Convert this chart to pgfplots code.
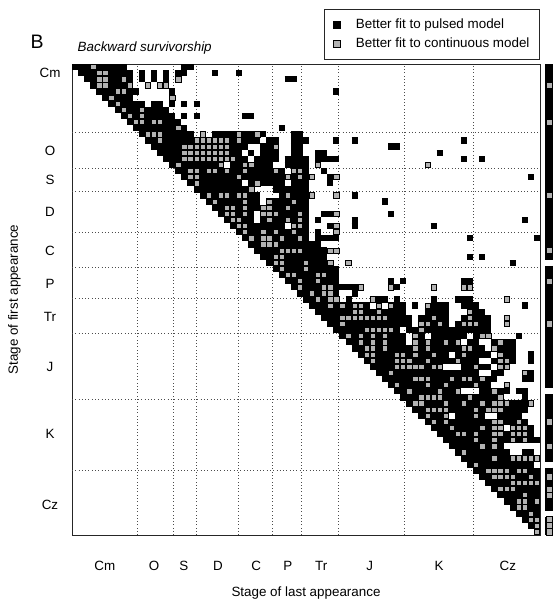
\documentclass[border=0pt]{standalone}
\usepackage{fontspec}
\setmainfont{Liberation Sans}
\usepackage{pgfplots}
\usepackage{pgfplotstable}
\pgfplotsset{compat=1.18}

% black runs: row r, first column a, length w
\pgfplotstableread{
r a w
0 0 9
0 18 2
1 1 9
1 11 1
1 13 1
1 15 1
1 17 2
1 23 1
1 27 1
2 2 8
2 11 1
2 13 1
2 15 1
2 35 2
3 3 7
4 4 7
4 16 1
4 43 1
5 5 5
6 6 6
6 13 2
6 16 1
6 18 1
6 20 1
7 7 9
8 8 9
8 18 1
8 20 1
8 28 2
9 9 9
10 10 9
10 34 1
11 11 9
11 21 1
11 23 9
11 36 2
12 12 19
12 32 2
12 36 3
12 43 1
12 46 1
12 64 1
13 13 16
13 31 3
13 36 2
13 52 2
14 14 14
14 29 1
14 31 3
14 36 2
14 40 2
14 60 1
15 15 14
15 30 4
15 35 4
15 40 4
15 64 1
15 67 1
16 16 9
16 26 2
16 29 4
16 35 4
17 17 18
17 36 3
17 41 1
18 18 22
18 42 1
18 75 1
19 19 9
19 29 6
19 36 3
19 42 1
20 20 10
20 33 6
21 21 10
21 34 5
21 46 1
22 22 9
22 32 7
22 51 1
23 23 16
24 24 6
24 31 8
24 41 2
24 52 1
25 25 5
25 31 8
25 40 1
25 46 1
25 74 1
26 26 9
26 36 3
26 42 1
26 46 1
26 59 1
27 27 12
27 40 1
28 28 11
28 40 4
28 65 1
28 76 1
29 29 12
30 30 12
31 31 11
31 65 1
31 67 1
32 32 10
32 72 1
33 33 11
34 34 10
35 35 9
35 52 1
35 54 1
35 64 2
36 36 11
36 53 1
37 37 7
37 46 1
38 38 4
38 45 1
38 49 3
38 53 1
38 59 1
38 63 3
39 39 10
39 52 3
39 56 1
39 59 3
39 64 3
39 74 1
40 40 15
40 58 4
40 66 2
41 41 15
41 57 5
41 64 5
42 42 14
42 57 5
42 63 6
43 43 11
43 55 14
44 44 11
44 56 2
44 59 6
44 66 3
44 73 1
45 45 10
45 56 8
45 65 2
45 69 4
46 46 22
46 69 4
47 47 15
47 63 6
47 70 3
47 75 1
48 48 19
48 69 4
48 75 1
49 49 12
49 64 5
49 70 2
50 50 17
50 69 2
50 74 2
51 51 19
51 74 2
52 52 17
53 53 11
53 67 5
53 73 2
54 54 17
54 74 1
55 55 20
56 56 19
57 57 5
57 63 5
57 70 4
58 58 15
58 74 1
59 59 12
59 72 4
60 60 16
61 61 16
62 62 9
63 63 9
63 74 2
64 64 13
65 65 11
66 66 11
67 67 10
68 68 9
69 69 8
70 70 7
71 71 6
72 72 5
73 73 4
74 74 3
75 75 2
}\runs

% grey cells: row r, column c
\pgfplotstableread{
r c
0 3
1 4
1 5
2 4
2 5
2 8
2 17
3 4
3 5
3 9
3 12
3 14
3 15
4 7
4 8
5 6
5 16
6 7
7 8
7 11
8 9
8 11
9 10
9 11
9 13
9 14
10 17
11 12
11 13
11 14
11 21
11 27
11 30
12 14
12 20
12 21
12 22
12 23
12 24
12 25
12 27
13 18
13 19
13 20
13 21
13 22
13 23
13 24
13 25
13 33
14 18
14 19
14 20
14 21
14 22
14 23
14 24
14 25
15 18
15 19
15 20
15 21
15 22
15 23
15 24
15 25
15 26
16 17
16 24
16 28
16 29
16 40
16 58
17 19
17 20
17 22
17 23
17 25
17 28
17 33
17 36
17 37
18 19
18 20
18 27
18 35
18 37
18 39
18 43
19 20
19 30
20 29
21 22
21 24
21 25
21 27
21 28
21 35
21 39
21 43
22 23
22 28
22 32
22 36
23 25
23 26
23 28
23 31
23 32
23 35
24 25
24 26
24 28
24 31
24 32
24 33
24 37
24 43
25 26
25 27
25 32
25 35
25 37
26 27
26 28
26 36
26 37
26 43
27 28
27 31
27 33
27 36
27 43
28 29
28 31
28 32
28 34
28 37
29 31
29 32
29 33
30 34
30 35
30 36
30 37
30 42
30 43
31 33
31 34
32 33
32 34
32 38
32 42
32 45
33 34
33 38
34 35
34 36
34 40
34 41
35 37
35 40
36 37
36 41
36 42
36 47
36 52
36 59
36 64
36 65
37 39
37 41
37 42
38 40
38 42
38 43
38 49
38 71
39 42
39 44
39 46
39 47
39 50
39 52
39 58
40 46
40 47
40 50
40 65
41 44
41 45
41 46
41 47
41 48
41 49
41 50
41 51
41 59
41 65
41 71
42 44
42 57
42 58
42 60
42 64
42 65
42 66
42 71
43 48
43 49
43 50
43 51
43 52
43 57
44 45
44 47
44 49
44 51
44 56
44 67
44 68
45 47
45 49
45 51
45 56
45 58
45 61
45 63
45 70
46 48
46 49
46 51
46 56
46 58
46 64
46 65
46 69
47 48
47 49
47 53
47 54
47 56
47 59
47 64
47 70
48 49
48 53
48 54
48 55
48 58
48 63
48 70
48 71
49 53
49 54
49 55
49 56
49 57
49 59
49 60
49 66
49 70
49 71
50 52
50 74
51 56
51 57
51 58
51 62
51 64
51 65
51 67
52 53
52 58
52 61
52 66
52 71
53 55
53 60
53 63
53 69
54 57
54 58
54 59
54 60
54 65
54 70
55 56
55 57
55 61
55 64
55 67
55 69
55 70
55 71
55 75
56 58
56 59
56 60
56 61
56 66
56 68
56 69
56 70
57 58
57 61
57 66
58 59
58 61
58 69
58 70
58 73
59 62
59 67
59 69
59 70
59 72
59 73
59 74
60 63
60 64
60 66
60 69
60 70
60 72
60 73
60 74
61 66
61 69
61 72
61 74
62 67
62 69
63 64
64 69
64 72
64 73
64 74
64 75
64 76
65 66
66 68
66 69
66 70
66 71
66 73
66 74
67 69
67 70
67 71
67 72
67 75
68 72
68 73
68 74
68 75
68 76
69 70
69 71
69 72
70 74
71 73
71 74
71 76
72 73
72 74
73 75
74 75
74 76
75 76
76 76
}\grays

\begin{document}
\fontsize{13.4}{16}\selectfont
\begin{tikzpicture}
\useasboundingbox (-72pt,-71pt) rectangle (483pt,535pt);
\begin{axis}[
  at={(0pt,0pt)}, anchor=south west,
  scale only axis, width=468pt, height=471pt,
  xmin=0, xmax=77, ymin=0, ymax=77,
  clip=false,
  axis line style={black!85, line width=0.8pt},
  major tick length=0pt,
  xtick={5.4,13.5,18.4,24.0,30.3,35.5,41.0,49.0,60.4,71.7},
  xticklabels={Cm,O,S,D,C,P,Tr,J,K,Cz},
  ytick={4.9,16.5,27.5,35.6,41.1,46.4,52.8,58.0,62.8,75.5},
  yticklabels={Cz,K,J,Tr,P,C,D,S,O,Cm},
  xticklabel style={anchor=base, yshift=-35pt},
  yticklabel style={anchor=center, xshift=-22pt},
  extra x ticks={10.7,16.6,20.4,27.3,32.9,37.8,43.8,54.6,66.1},
  extra y ticks={65.9,60.0,56.2,49.4,43.7,38.7,32.9,22.2,10.6},
  extra x tick labels={}, extra y tick labels={},
  extra x tick style={grid=major}, extra y tick style={grid=major},
  major grid style={black!70, line width=0.7pt, dash pattern=on 0.7pt off 2.6pt},
  legend cell align=left,
  legend style={at={(1,1)}, anchor=south east, yshift=4pt, draw=black!85,
    line width=1pt, inner xsep=9pt, inner ysep=8pt, row sep=4pt, column sep=14pt,
    nodes={inner sep=1pt, text height=10pt, text depth=3pt}},
]
\addplot[black, line width=6.3pt, mark=none, quiver={u=\thisrow{w}, v=0},
  legend image code/.code={\fill[black, draw=none, line width=0pt] (0pt,-3.8pt) rectangle (7.6pt,3.8pt);}]
  table[x=a, y expr=76.5-\thisrow{r}] {\runs};
\addlegendentry{Better fit to pulsed model}
\addplot[only marks, mark=square*, mark size=2.65pt,
  mark options={draw=black, fill=black!30, line width=0.8pt},
  legend image code/.code={\draw[draw=black, fill=black!30, line width=0.8pt] (0.4pt,-3.4pt) rectangle (7.2pt,3.4pt);}]
  table[x expr=\thisrow{c}+0.5, y expr=76.5-\thisrow{r}] {\grays};
\addlegendentry{Better fit to continuous model}
% side strip
\addplot[forget plot, black, line width=7.3pt, mark=none, quiver={u=0, v=-\thisrow{len}}]
  table[x expr=78.5, y=y0] {
y0 len
77 32
44 20
23 11
11 7
3 3
};
\addplot[forget plot, only marks, mark=square*, mark size=3.2pt,
  mark options={draw=black, fill=black!30, line width=0.8pt}]
  table[x expr=78.5, y expr=76.5-\thisrow{r}] {
r
3
9
21
30
35
42
58
62
67
69
70
74
75
76
};
\end{axis}
\node[anchor=base west, font=\itshape] at (1pt,483pt) {Backward survivorship};
\node[anchor=base west, font=\fontsize{19.5}{22}\selectfont] at (-46pt,486pt) {B};
\node[anchor=base] at (234pt,-61.5pt) {Stage of last appearance};
\node[anchor=base, rotate=90] at (-54pt,235.5pt) {Stage of first appearance};
\end{tikzpicture}
\end{document}
